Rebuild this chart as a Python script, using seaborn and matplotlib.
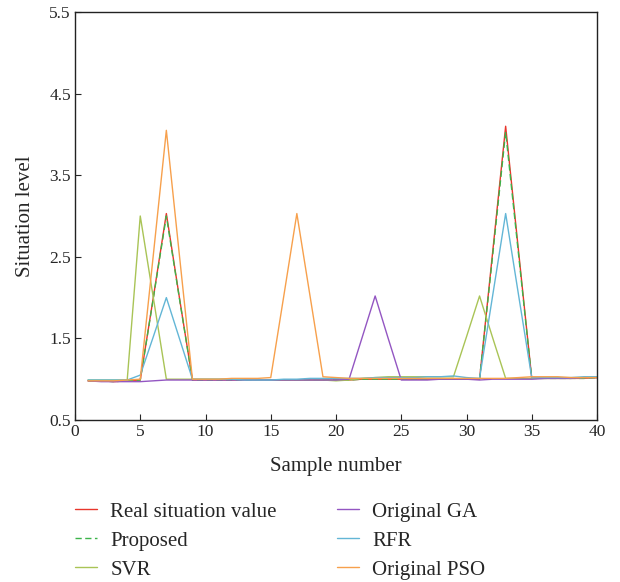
import numpy as np
import pandas as pd
import matplotlib
matplotlib.use("Agg")
import matplotlib.pyplot as plt
import seaborn as sns

# sample index 1..40
samples = list(range(1, 41))

real = [0.98, 0.98, 0.97, 0.98, 0.99, 2.00, 3.03, 2.00, 0.99, 0.99,
        0.99, 0.99, 0.99, 0.99, 0.99, 0.99, 0.99, 0.99, 0.99, 0.99,
        0.99, 1.00, 1.00, 1.00, 1.00, 1.00, 1.00, 1.00, 1.00, 1.00,
        1.00, 2.55, 4.10, 2.55, 1.01, 1.01, 1.01, 1.01, 1.01, 1.02]
proposed = [0.98, 0.98, 0.97, 0.98, 0.99, 1.99, 3.00, 1.99, 0.99, 0.99,
            0.99, 0.99, 0.99, 0.99, 0.99, 0.99, 0.99, 0.99, 0.99, 0.99,
            0.99, 1.00, 1.00, 1.00, 1.00, 1.00, 1.00, 1.00, 1.00, 1.00,
            1.00, 2.51, 4.03, 2.51, 1.01, 1.01, 1.01, 1.01, 1.01, 1.02]
svr = [0.99, 0.99, 0.99, 0.99, 3.00, 2.00, 1.00, 1.00, 1.00, 1.00,
       1.00, 1.00, 1.00, 0.99, 0.99, 0.99, 0.99, 0.99, 0.99, 0.98,
       0.99, 1.01, 1.02, 1.03, 1.03, 1.03, 1.03, 1.03, 1.03, 1.52,
       2.02, 1.51, 1.01, 1.01, 1.01, 1.01, 1.01, 1.01, 1.02, 1.02]
ga = [0.98, 0.97, 0.97, 0.97, 0.97, 0.98, 0.99, 0.99, 0.99, 0.99,
      0.99, 0.99, 0.99, 0.99, 0.99, 0.99, 0.99, 0.99, 0.99, 0.99,
      1.00, 1.51, 2.02, 1.50, 0.99, 0.99, 0.99, 1.00, 1.00, 1.00,
      0.99, 1.00, 1.00, 1.00, 1.00, 1.01, 1.01, 1.01, 1.02, 1.02]
rfr = [0.99, 0.99, 0.99, 0.99, 1.05, 1.52, 2.00, 1.50, 1.00, 1.00,
       1.00, 1.00, 0.99, 0.99, 0.99, 1.00, 1.00, 1.01, 1.01, 1.01,
       1.01, 1.01, 1.02, 1.02, 1.02, 1.02, 1.03, 1.03, 1.04, 1.02,
       1.01, 2.02, 3.03, 2.02, 1.02, 1.02, 1.02, 1.02, 1.03, 1.03]
pso = [0.98, 0.98, 0.98, 0.99, 1.00, 2.52, 4.05, 2.52, 1.00, 1.00,
       1.00, 1.01, 1.01, 1.01, 1.02, 2.02, 3.03, 2.03, 1.03, 1.02,
       1.01, 1.01, 1.01, 1.01, 1.01, 1.01, 1.01, 1.01, 1.01, 1.01,
       1.01, 1.01, 1.01, 1.02, 1.03, 1.03, 1.03, 1.02, 1.02, 1.02]

labels = ["Real situation value", "Proposed", "SVR",
          "Original GA", "RFR", "Original PSO"]
series = [real, proposed, svr, ga, rfr, pso]
colors = ["#e8362c", "#3cb44a", "#a9c456", "#9356c2", "#63b6d6", "#f7a04c"]
dashed = [False, True, False, False, False, False]

sns.set_style("ticks")
plt.rcParams["font.family"] = ["Liberation Serif", "DejaVu Serif"]

fig = plt.figure(figsize=(6.2, 5.82), dpi=100)
ax = fig.add_axes([75 / 620, 1 - 420 / 582, 522 / 620, 408 / 582])

for lab, vals, col, dsh in zip(labels, series, colors, dashed):
    sns.lineplot(x=samples, y=vals, ax=ax, color=col, linewidth=1.0,
                 label=lab)
    if dsh:
        ax.lines[-1].set_dashes((4.5, 2.5))

ax.set_xlim(0, 40)
ax.set_ylim(0.5, 5.5)
ax.set_xticks(np.arange(0, 41, 5))
ax.set_yticks(np.arange(0.5, 5.6, 1.0))
ax.set_yticklabels(["0.5", "1.5", "2.5", "3.5", "4.5", "5.5"])
ax.tick_params(direction="in", length=4, width=0.8, labelsize=12.5,
               top=False, right=False, pad=3)
for sp in ax.spines.values():
    sp.set_linewidth(1.0)
    sp.set_color("#222222")
ax.set_xlabel("Sample number", fontsize=15, labelpad=12)
ax.set_ylabel("Situation level", fontsize=15, labelpad=10)

ax.legend(ncol=2, frameon=False, fontsize=15, loc="upper left",
          bbox_to_anchor=(-0.016, -0.181), handlelength=1.06,
          handletextpad=0.63, columnspacing=2.9, labelspacing=0.45,
          borderaxespad=0)

fig.savefig("out.png", dpi=100)
